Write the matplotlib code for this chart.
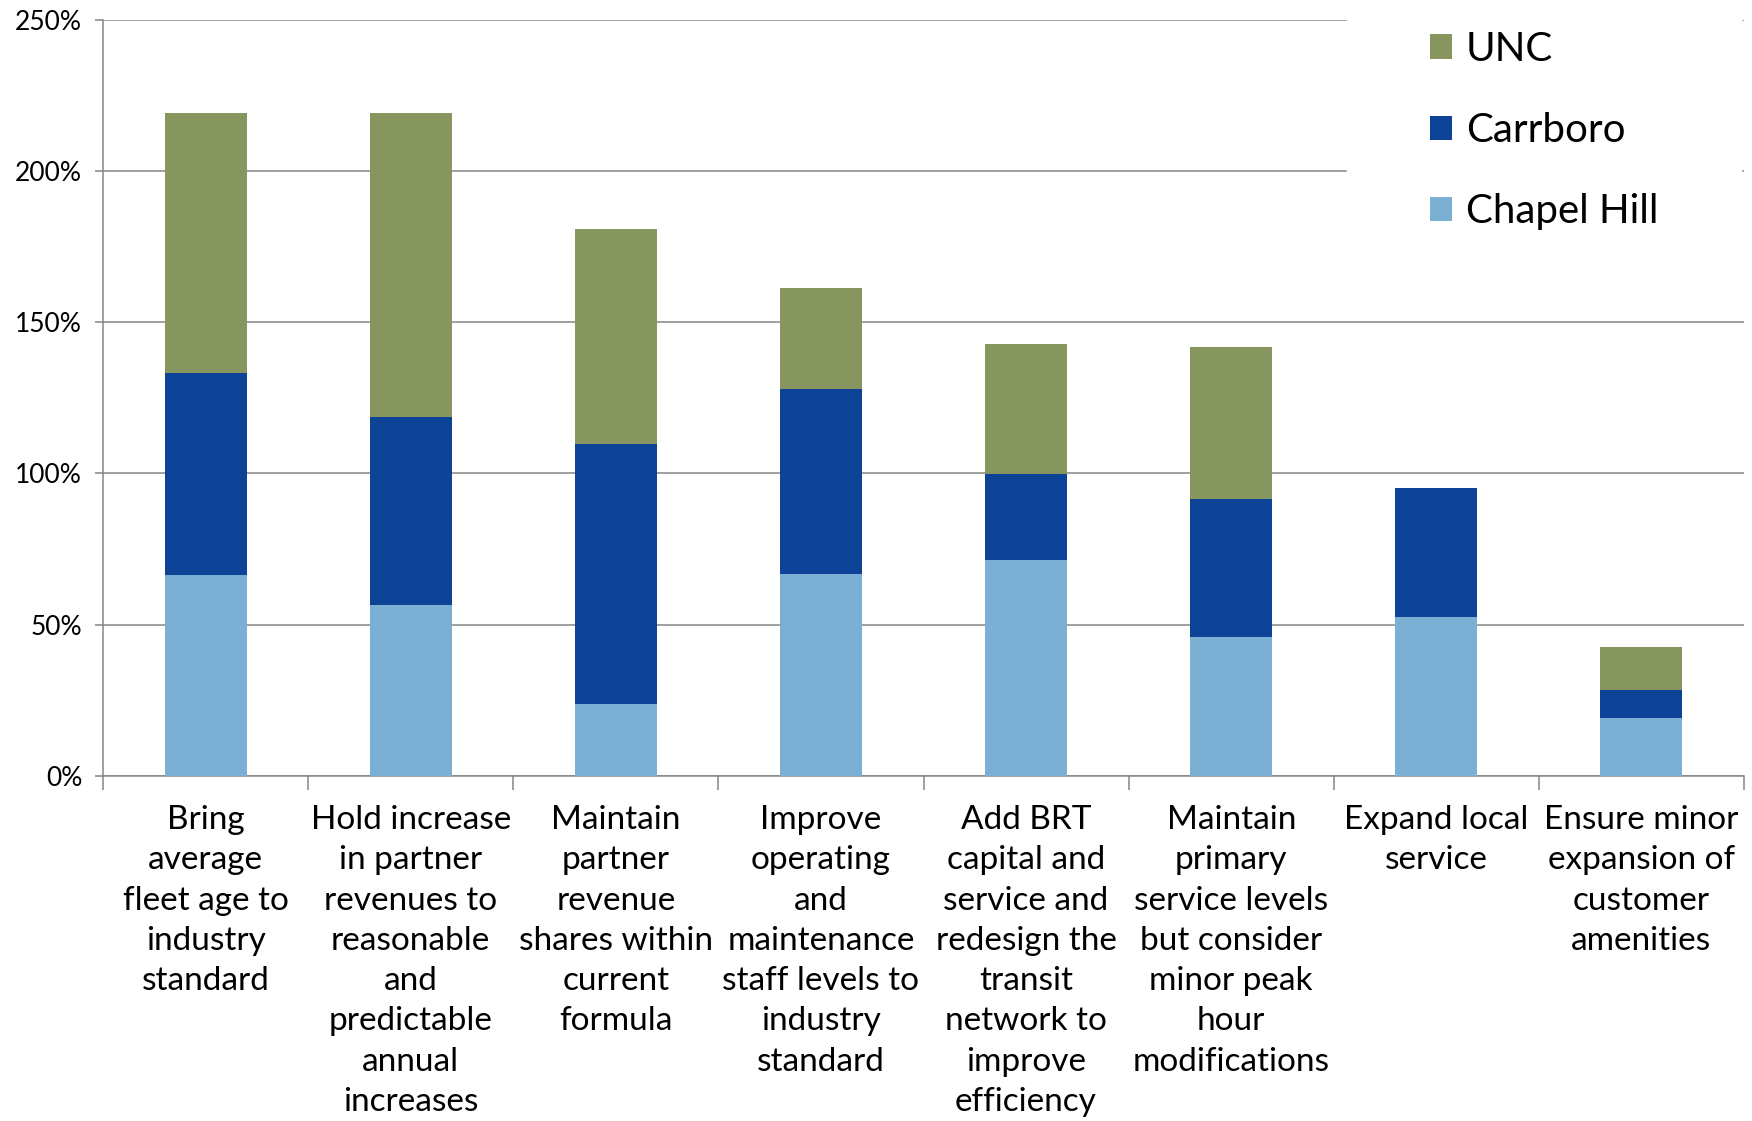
import matplotlib
matplotlib.use("Agg")
import matplotlib.pyplot as plt
from matplotlib.patches import Patch
import numpy as np

# Scenario categories (wrapped as displayed under each bar)
categories = [
    "Bring\naverage\nfleet age to\nindustry\nstandard",
    "Hold increase\nin partner\nrevenues to\nreasonable\nand\npredictable\nannual\nincreases",
    "Maintain\npartner\nrevenue\nshares within\ncurrent\nformula",
    "Improve\noperating\nand\nmaintenance\nstaff levels to\nindustry\nstandard",
    "Add BRT\ncapital and\nservice and\nredesign the\ntransit\nnetwork to\nimprove\nefficiency",
    "Maintain\nprimary\nservice levels\nbut consider\nminor peak\nhour\nmodifications",
    "Expand local\nservice",
    "Ensure minor\nexpansion of\ncustomer\namenities",
]

# Percent increase contributed by each partner (stacked bottom to top)
chapel_hill = [66.4, 56.6, 23.7, 66.7, 71.4, 46.0, 52.4, 19.0]
carrboro    = [66.8, 62.1, 85.9, 61.1, 28.4, 45.5, 42.7, 9.5]
unc         = [85.9, 100.4, 71.3, 33.4, 43.0, 50.2, 0.0, 14.2]

y_ticks = [0, 50, 100, 150, 200, 250]

series_names = ["Chapel Hill", "Carrboro", "UNC"]
series_colors = ["#7BAFD4", "#0D4396", "#87965E"]

FONT = ["Lato", "DejaVu Sans"]
GRID = "#868686"

fig = plt.figure(figsize=(17.52, 11.21), dpi=100)
ax = fig.add_axes([103 / 1752, 345.3 / 1121, (1744 - 103) / 1752, (775.7 - 20) / 1121])

x = np.arange(len(categories))
bottom = np.zeros(len(categories))
for name, vals, col in zip(series_names, [chapel_hill, carrboro, unc], series_colors):
    vals = np.array(vals)
    ax.bar(x, vals, width=0.4, bottom=bottom, color=col, label=name, zorder=3)
    bottom += vals

ax.set_xlim(-0.5, len(categories) - 0.5)
ax.set_ylim(0, 250)
ax.set_yticks(y_ticks)
ax.set_yticklabels([f"{v}%" for v in y_ticks], fontsize=19, family=FONT, color="black")
ax.yaxis.grid(True, color=GRID, linewidth=1.1, zorder=0)
ax.set_axisbelow(True)

ax.set_xticks(x)
ax.set_xticklabels(categories, fontsize=24, family=FONT, color="black",
                   linespacing=1.43, ha="center", multialignment="center")
ax.set_xticks(np.arange(-0.5, len(categories) + 0.5, 1), minor=True)
ax.tick_params(axis="x", which="major", length=0, pad=21)
ax.tick_params(axis="x", which="minor", length=10, width=1.1, color=GRID)
ax.tick_params(axis="y", which="major", length=6, width=1.1, color=GRID, pad=9)

for side in ["top", "right"]:
    ax.spines[side].set_visible(False)
for side in ["left", "bottom"]:
    ax.spines[side].set_color(GRID)
    ax.spines[side].set_linewidth(1.1)

handles = [Patch(facecolor=c, edgecolor="none") for c in series_colors][::-1]
labels = series_names[::-1]
leg = fig.legend(handles, labels, loc="center left",
                 bbox_to_anchor=(1347 / 1752, (1121 - 130.5) / 1121),
                 bbox_transform=fig.transFigure,
                 prop={"family": FONT, "size": 29},
                 handlelength=0.55, handleheight=0.55, handletextpad=0.35,
                 labelspacing=1.1, borderpad=2.05, borderaxespad=0,
                 frameon=True, fancybox=False, framealpha=1.0,
                 facecolor="white", edgecolor="white")
leg.set_zorder(5)

fig.savefig("out.png", dpi=100, facecolor="white")
